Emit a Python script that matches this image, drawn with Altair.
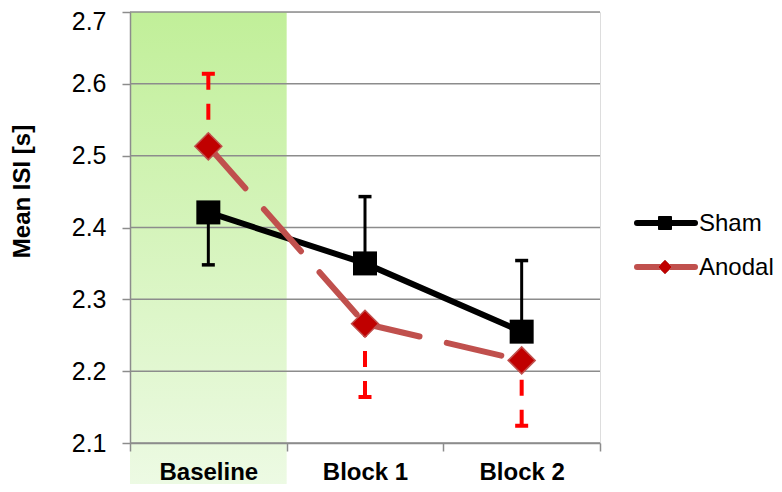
import altair as alt
import pandas as pd

categories = ["Baseline", "Block 1", "Block 2"]
series_names = ["Sham", "Anodal"]
sham_mean = [2.421, 2.350, 2.255]
sham_err_end = [2.348, 2.443, 2.354]
anodal_mean = [2.513, 2.266, 2.215]
anodal_err_end = [2.614, 2.164, 2.124]
y_ticks = [2.1, 2.2, 2.3, 2.4, 2.5, 2.6, 2.7]
shaded = ["Baseline"]

FONT = "Liberation Sans"
GRID = "#8c8c8c"
W, H = 470, 431

sham_df = pd.DataFrame({"cat": categories, "mean": sham_mean, "err": sham_err_end})
anodal_df = pd.DataFrame({"cat": categories, "mean": anodal_mean, "err": anodal_err_end})
# separate line pieces so the dash restarts at every point (as in the original)
seg_rows = []
for i in range(len(categories) - 1):
    for j in (i, i + 1):
        seg_rows.append({"cat": categories[j], "mean": anodal_mean[j], "seg": i})
anodal_seg_df = pd.DataFrame(seg_rows)
grid_df = pd.DataFrame({"v": y_ticks})
band_df = pd.DataFrame({"cat": shaded})
legend_df = pd.DataFrame({"series": series_names})

x_scale = alt.Scale(type="band", domain=categories, paddingInner=0, paddingOuter=0)
y_scale = alt.Scale(domain=[2.1, 2.7], nice=False, zero=False)

x_enc = alt.X("cat:N", scale=x_scale, sort=categories,
              axis=alt.Axis(title=None, labelAngle=0, labelFontSize=24, labelFontWeight="bold",
                            labelColor="black", labelFont=FONT, labelBaseline="alphabetic",
                            labelPadding=28, tickBand="extent", tickSize=8, tickColor=GRID,
                            tickWidth=1.5, domainColor=GRID, domainWidth=1.5, zindex=1))
y_enc = alt.Y("mean:Q", scale=y_scale,
              axis=alt.Axis(title="Mean ISI [s]", values=y_ticks, format=".1f", grid=False,
                            labelFontSize=25, labelColor="black", labelFont=FONT, labelPadding=16,
                            labelOffset={"condition": {"test": "datum.value >= 2.69", "value": 9},
                                         "value": 0},
                            tickSize=8, tickColor=GRID, tickWidth=1.5, domainColor=GRID,
                            domainWidth=1.5, titleFontSize=24, titleFontWeight="bold",
                            titleFont=FONT, titleColor="black", titleAngle=270,
                            titleBaseline="alphabetic", titleAlign="center",
                            titleX=-101, titleY=179, zindex=1))

band = alt.Chart(band_df).mark_rect(
    fill=alt.Gradient(gradient="linear",
                      stops=[alt.GradientStop(color="#c1ef99", offset=0),
                             alt.GradientStop(color="#edfae4", offset=1)],
                      x1=0, x2=0, y1=0, y2=1)
).encode(x=x_enc, y=alt.value(0), y2=alt.value(H + 45))

grid = alt.Chart(grid_df).mark_rule(color=GRID, strokeWidth=1.5).encode(
    y=alt.Y("v:Q", scale=y_scale))

sham_err = alt.Chart(sham_df).mark_rule(color="black", strokeWidth=3).encode(
    x=x_enc, y=alt.Y("err:Q", scale=y_scale), y2="mean:Q")
sham_cap = alt.Chart(sham_df).mark_tick(color="black", size=13, thickness=3.5, opacity=1).encode(
    x=x_enc, y=alt.Y("err:Q", scale=y_scale))
sham_line = alt.Chart(sham_df).mark_line(color="black", strokeWidth=6).encode(x=x_enc, y=y_enc)
sham_pts = alt.Chart(sham_df).mark_point(shape="square", size=576, filled=True, color="black",
                                         opacity=1).encode(x=x_enc, y=y_enc)

anodal_line = alt.Chart(anodal_seg_df).mark_line(
    color="#c0504d", strokeWidth=6, strokeDash=[56, 28], strokeCap="round"
).encode(x=x_enc, y=y_enc, detail="seg:N")
anodal_err = alt.Chart(anodal_df).mark_rule(color="#ff0000", strokeWidth=4, strokeDash=[16, 14]).encode(
    x=x_enc, y=alt.Y("err:Q", scale=y_scale), y2="mean:Q")
anodal_cap = alt.Chart(anodal_df).mark_tick(color="#ff0000", size=13, thickness=4, opacity=1).encode(
    x=x_enc, y=alt.Y("err:Q", scale=y_scale))
anodal_pts = alt.Chart(anodal_df).mark_point(shape="diamond", size=729, filled=True, fill="#c00000",
                                             stroke="#c0504d", strokeWidth=1.5, opacity=1).encode(
    x=x_enc, y=y_enc)

# legend
leg_y = {"Sham": 211, "Anodal": 255}
leg_style = {
    "Sham": dict(line="black", shape="square", size=169, fill="black", stroke="black"),
    "Anodal": dict(line="#c0504d", shape="diamond", size=196, fill="#c00000", stroke="#c0504d"),
}
legend_layers = []
for s in series_names:
    st = leg_style[s]
    d = legend_df[legend_df["series"] == s]
    legend_layers.append(alt.Chart(d).mark_rule(color=st["line"], strokeWidth=6, strokeCap="round").encode(
        x=alt.value(507), x2=alt.value(565), y=alt.value(leg_y[s])))
    legend_layers.append(alt.Chart(d).mark_point(shape=st["shape"], size=st["size"], filled=True,
                                                 fill=st["fill"], stroke=st["stroke"], strokeWidth=1,
                                                 opacity=1).encode(
        x=alt.value(535), y=alt.value(leg_y[s])))
    legend_layers.append(alt.Chart(d).mark_text(align="left", baseline="middle", fontSize=24,
                                                font=FONT, color="black").encode(
        x=alt.value(569), y=alt.value(leg_y[s] + 1), text="series:N"))

chart = alt.layer(
    band, grid, sham_err, sham_cap, sham_line, sham_pts,
    anodal_line, anodal_err, anodal_cap, anodal_pts, *legend_layers
).properties(
    width=W, height=H,
    autosize=alt.AutoSizeParams(type="none"),
    padding={"left": 122, "top": 4, "right": 174, "bottom": 41},
).configure_view(stroke=None).configure(font=FONT)

chart.save("out.html", embed_options={"renderer": "svg", "actions": False})
